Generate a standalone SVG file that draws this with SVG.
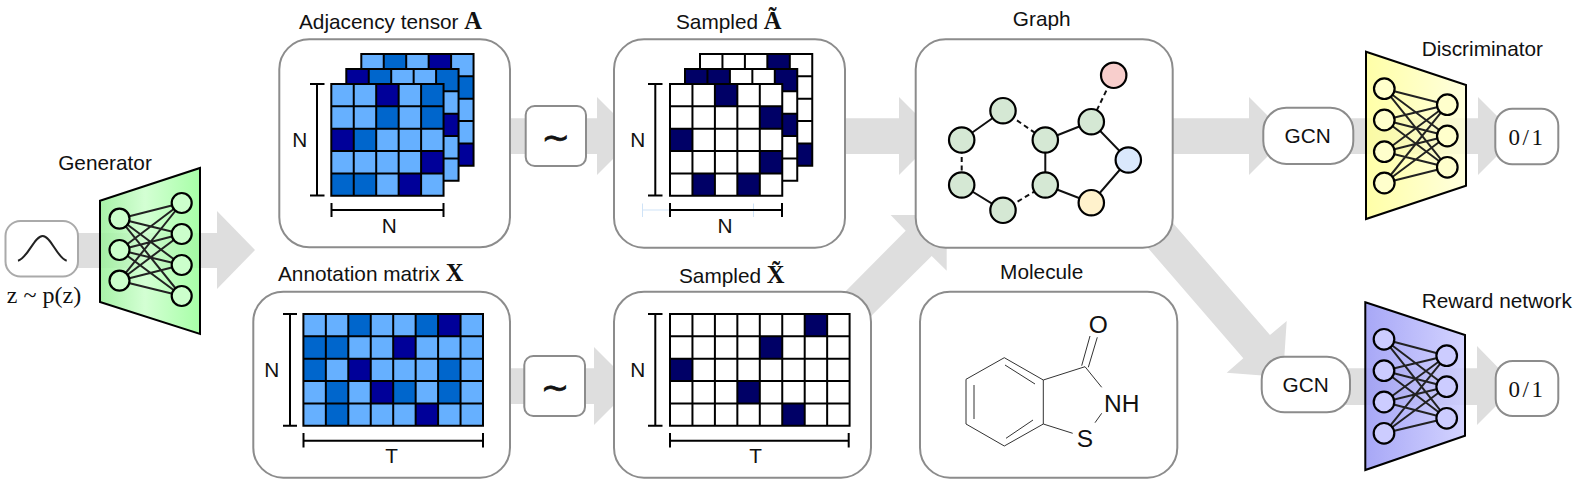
<svg xmlns="http://www.w3.org/2000/svg" width="1578" height="480" viewBox="0 0 1578 480">
<style>
text{font-family:"Liberation Sans",Arial,sans-serif;font-size:20.8px;fill:#111}
.mid{text-anchor:middle}
.tex{font-family:"Liberation Serif","Times New Roman",serif}
.bold{font-family:"Liberation Serif","Times New Roman",serif;font-weight:bold;font-size:24.5px}
.box{fill:#fff;stroke:#8c8c8c;stroke-width:2}
.flow{fill:#dedede;stroke:none}
.l{fill:#66b0ff}.m{fill:#0066cc}.d{fill:#000099}.s{fill:#000066}.w{fill:#fff}
.grid{fill:none;stroke:#000;stroke-width:2}
.bar{fill:none;stroke:#000;stroke-width:2}
.net{fill:none;stroke:#222;stroke-width:2}
.trap{stroke:#000;stroke-width:2;stroke-linejoin:miter}
.bond{stroke:#111;stroke-width:2;fill:none}
.dash{stroke-dasharray:5 3.5}
.atom{stroke:#000;stroke-width:2.2}
.g{fill:#d5e8d4}
.stick{stroke:#333;stroke-width:1;fill:none}
.tilde{font-family:"DejaVu Sans",sans-serif;font-size:34px;stroke:#111;stroke-width:.7}
.frac{font-family:"Liberation Serif","Times New Roman",serif;font-size:23px;letter-spacing:2.5px}
</style>
<defs>
<rect id="c" width="22.45" height="22.35"/>
<path id="g5" d="M0 0H112.25V111.75H0ZM22.45 0V111.75M44.9 0V111.75M67.35 0V111.75M89.8 0V111.75M0 22.35H112.25M0 44.7H112.25M0 67.05H112.25M0 89.4H112.25"/>
<path id="g8" d="M0 0H179.6V111.75H0ZM22.45 0V111.75M44.9 0V111.75M67.35 0V111.75M89.8 0V111.75M112.25 0V111.75M134.7 0V111.75M157.15 0V111.75M0 22.35H179.6M0 44.7H179.6M0 67.05H179.6M0 89.4H179.6"/>
<linearGradient id="gGen" x1="0" x2="1" y1="0" y2="0"><stop offset="0" stop-color="#99f099"/><stop offset=".45" stop-color="#ccffcc"/><stop offset="1" stop-color="#99ff99"/></linearGradient>
<linearGradient id="gDis" x1="0" x2="1" y1="0" y2="0"><stop offset="0" stop-color="#ffff99"/><stop offset="1" stop-color="#ffffd8"/></linearGradient>
<linearGradient id="gRew" x1="0" x2="1" y1="0" y2="0"><stop offset="0" stop-color="#9999f5"/><stop offset="1" stop-color="#ccccff"/></linearGradient>
</defs>

<g id="connectors">
<path class="flow" d="M60 233H217V211L255 250L217 289V268H60Z"/>
<path class="flow" d="M500 118.300H597V97L636 136L597 175V154H500Z"/>
<path class="flow" d="M500 368.300H594V347L633 386L594 425V404H500Z"/>
<path class="flow" d="M840 118.300H899V97L938 136L899 175V154H840Z"/>
<path class="flow" d="M835 302L905.700 230.700L890.700 215H946.700V270.700L931.700 256L860 327Z"/>
<path class="flow" d="M1160 118.300H1249V97L1288 136L1249 175V154H1160Z"/>
<path class="flow" d="M1160 208L1270 335L1286.700 321L1283 377L1226.700 372.700L1243.300 358.300L1135 233Z"/>
<path class="flow" d="M1340 118.300H1478V97L1517 136L1478 175V154H1340Z"/>
<path class="flow" d="M1340 368.300H1477V346L1516 386L1477 425V405H1340Z"/>
</g>

<g id="noise">
<rect class="box" x="5.500" y="221" width="72.500" height="55.500" rx="15" style="stroke:#aaa"/>
<path d="M18 260.700C28 258 34 236 42.700 236C51 236 57 258 66.700 260.700" fill="none" stroke="#222" stroke-width="2"/>
<text class="tex mid" x="44" y="303" style="font-size:24px">z ~ p(z)</text>
</g>

<g id="generator">
<text class="mid" x="105" y="170">Generator</text>
<path class="trap" fill="url(#gGen)" fill-opacity=".86" d="M100 200.700L200 168V334L100 302Z"/>
<path class="net" d="M119.500 218.700L181.700 203M119.500 218.700L181.700 234M119.500 218.700L181.700 265M119.500 218.700L181.700 296M119.500 250L181.700 203M119.500 250L181.700 234M119.500 250L181.700 265M119.500 250L181.700 296M119.500 280.700L181.700 203M119.500 280.700L181.700 234M119.500 280.700L181.700 265M119.500 280.700L181.700 296"/>
<g class="atom" fill="#ccffcc">
<circle cx="119.500" cy="218.700" r="10"/><circle cx="119.500" cy="250" r="10"/><circle cx="119.500" cy="280.700" r="10"/>
<circle cx="181.700" cy="203" r="10"/><circle cx="181.700" cy="234" r="10"/><circle cx="181.700" cy="265" r="10"/><circle cx="181.700" cy="296" r="10"/>
</g>
</g>

<g id="adjacency">
<text x="299" y="28.500">Adjacency tensor <tspan class="bold">A</tspan></text>
<rect class="box" x="279.300" y="39.300" width="230.700" height="208" rx="30"/>
<g transform="translate(361.300 54)">
<rect class="l" width="112.250" height="111.750"/>
<use href="#c" class="m" x="22.450"/><use href="#c" class="d" x="67.350"/><use href="#c" class="m" x="89.800" y="22.350"/><use href="#c" class="d" x="89.800" y="89.400"/>
<use href="#g5" class="grid"/>
</g>
<g transform="translate(346.300 69)">
<rect class="l" width="112.250" height="111.750"/>
<use href="#c" class="d"/><use href="#c" class="m" x="22.450"/><use href="#c" class="m" x="89.800"/><use href="#c" class="d" x="89.800" y="44.700"/>
<use href="#g5" class="grid"/>
</g>
<g transform="translate(331.300 84)">
<rect class="l" width="112.250" height="111.750"/>
<use href="#c" class="d" x="44.900"/><use href="#c" class="m" x="89.800"/>
<use href="#c" class="m" x="44.900" y="22.350"/><use href="#c" class="m" x="89.800" y="22.350"/>
<use href="#c" class="d" y="44.700"/><use href="#c" class="m" x="22.450" y="44.700"/>
<use href="#c" class="d" x="89.800" y="67.050"/>
<use href="#c" class="m" y="89.400"/><use href="#c" class="m" x="22.450" y="89.400"/><use href="#c" class="d" x="67.350" y="89.400"/>
<use href="#g5" class="grid"/>
</g>
<path class="bar" d="M310 84H324.500M317 84V195.500M310 195.500H324.500M331.500 203V217M331.500 210H443.500M443.500 203V217"/>
<text class="mid" x="299.700" y="147">N</text>
<text class="mid" x="389.300" y="233">N</text>
</g>

<g id="sampler-a">
<rect class="box" x="525.700" y="106" width="60.300" height="60" rx="9"/>
<text class="mid tilde" x="555.700" y="148.500">∼</text>
</g>

<g id="sampled-a">
<text x="676" y="28.500">Sampled <tspan class="bold">Ã</tspan></text>
<rect class="box" x="614" y="39.300" width="231" height="208.400" rx="30"/>
<g transform="translate(700 54)">
<rect class="w" width="112.250" height="111.750"/>
<use href="#c" class="s" x="67.350"/><use href="#c" class="s" x="89.800" y="89.400"/>
<use href="#g5" class="grid"/>
</g>
<g transform="translate(685 69)">
<rect class="w" width="112.250" height="111.750"/>
<use href="#c" class="s"/><use href="#c" class="s" x="22.450"/><use href="#c" class="s" x="89.800"/><use href="#c" class="s" x="89.800" y="44.700"/>
<use href="#g5" class="grid"/>
</g>
<g transform="translate(670 84)">
<rect class="w" width="112.250" height="111.750"/>
<use href="#c" class="s" x="44.900"/><use href="#c" class="s" x="89.800" y="22.350"/><use href="#c" class="s" y="44.700"/><use href="#c" class="s" x="89.800" y="67.050"/><use href="#c" class="s" x="22.450" y="89.400"/><use href="#c" class="s" x="67.350" y="89.400"/>
<use href="#g5" class="grid"/>
</g>
<path d="M642.500 203.500V217M642.500 210H670M753.500 203.500V217" fill="none" stroke="#cfe3f7" stroke-width="1"/>
<path class="bar" d="M648 84H662.500M655.300 84V195.500M648 195.500H662.500M670 203V217M670 210H782M782 203V217"/>
<text class="mid" x="637.700" y="147">N</text>
<text class="mid" x="725" y="233">N</text>
</g>

<g id="annotation">
<text x="278" y="281">Annotation matrix <tspan class="bold">X</tspan></text>
<rect class="box" x="253.300" y="291.700" width="256.700" height="186" rx="30"/>
<g transform="translate(303.400 314)">
<rect class="l" width="179.600" height="111.750"/>
<use href="#c" class="m" x="44.900"/><use href="#c" class="m" x="112.250"/><use href="#c" class="d" x="134.700"/>
<use href="#c" class="m" y="22.350"/><use href="#c" class="m" x="22.450" y="22.350"/><use href="#c" class="d" x="89.800" y="22.350"/>
<use href="#c" class="m" y="44.700"/><use href="#c" class="d" x="44.900" y="44.700"/><use href="#c" class="m" x="134.700" y="44.700"/>
<use href="#c" class="m" x="22.450" y="67.050"/><use href="#c" class="d" x="67.350" y="67.050"/><use href="#c" class="m" x="89.800" y="67.050"/><use href="#c" class="m" x="134.700" y="67.050"/>
<use href="#c" class="m" x="22.450" y="89.400"/><use href="#c" class="d" x="112.250" y="89.400"/>
<use href="#g8" class="grid"/>
</g>
<path class="bar" d="M283 314H297M290 314V425.700M283 425.700H297M303.500 433V447.500M303.500 440.700H483M483 433V447.500"/>
<text class="mid" x="271.700" y="377.300">N</text>
<text class="mid" x="391.700" y="463.300">T</text>
</g>

<g id="sampler-x">
<rect class="box" x="524.300" y="356" width="60.700" height="60" rx="9"/>
<text class="mid tilde" x="555" y="398.500">∼</text>
</g>

<g id="sampled-x">
<text x="679" y="282.500">Sampled <tspan class="bold">X̃</tspan></text>
<rect class="box" x="614" y="291.700" width="257" height="186" rx="30"/>
<g transform="translate(670 314)">
<rect class="w" width="179.600" height="111.750"/>
<use href="#c" class="s" x="134.700"/><use href="#c" class="s" x="89.800" y="22.350"/><use href="#c" class="s" y="44.700"/><use href="#c" class="s" x="67.350" y="67.050"/><use href="#c" class="s" x="112.250" y="89.400"/>
<use href="#g8" class="grid"/>
</g>
<path class="bar" d="M648 314H662.500M655.300 314V425.700M648 425.700H662.500M670 433V447.500M670 440.700H848.700M848.700 433V447.500"/>
<text class="mid" x="637.700" y="377">N</text>
<text class="mid" x="755.700" y="463.300">T</text>
</g>

<g id="graph">
<text class="mid" x="1041.700" y="26">Graph</text>
<rect class="box" x="915.700" y="39.300" width="257" height="208.400" rx="30"/>
<path class="bond dash" d="M1113.700 75.300L1091.300 121.700M1003 110.700L1045.300 140M961.700 140V185M1003 210.300L1045.300 185"/>
<path class="bond" d="M1091.300 121.700L1045.300 140M1091.300 121.700L1128.300 160L1091.300 202.700L1045.300 185V140M1003 110.700L961.700 140M961.700 185L1003 210.300"/>
<g class="atom">
<circle cx="1113.700" cy="75.300" r="12.700" fill="#f8cecc"/>
<circle class="g" cx="1091.300" cy="121.700" r="12.700"/>
<circle cx="1128.300" cy="160" r="12.700" fill="#dae8fc"/>
<circle cx="1091.300" cy="202.700" r="12.700" fill="#fff2cc"/>
<circle class="g" cx="1045.300" cy="140" r="12.700"/>
<circle class="g" cx="1045.300" cy="185" r="12.700"/>
<circle class="g" cx="1003" cy="110.700" r="12.700"/>
<circle class="g" cx="961.700" cy="140" r="12.700"/>
<circle class="g" cx="961.700" cy="185" r="12.700"/>
<circle class="g" cx="1003" cy="210.300" r="12.700"/>
</g>
</g>

<g id="molecule">
<text class="mid" x="1041.700" y="279.300">Molecule</text>
<rect class="box" x="920" y="291.700" width="257.300" height="186" rx="30"/>
<path class="stick" d="M1004.300 357.700L1043.300 380V424L1004.300 446L966 424V379.300ZM974 385V419M1005 365L1035 384M1006 438.300L1033 420M1043.300 380L1085 366.700L1101.700 387.300M1081.700 365.700L1090 336M1088.300 367.300L1097.300 337.300M1101.700 413.300L1095 422.700M1043.300 424L1072.700 433.300"/>
<text class="mid" x="1098.300" y="333.300" style="font-size:24.500px">O</text>
<text x="1104" y="411.700" style="font-size:24.500px">NH</text>
<text class="mid" x="1085" y="447.300" style="font-size:24.500px">S</text>
</g>

<g id="gcn-top">
<rect class="box" x="1263.300" y="107.700" width="90" height="56.300" rx="23"/>
<text class="mid" x="1307.700" y="143.300">GCN</text>
</g>

<g id="discriminator">
<text x="1421.700" y="56">Discriminator</text>
<path class="trap" fill="url(#gDis)" fill-opacity=".86" d="M1366 51.700L1466 85V185.700L1366 219Z"/>
<path class="net" d="M1384.300 88.700L1447.300 104.700M1384.300 88.700L1447.300 136M1384.300 88.700L1447.300 167.300M1384.300 120L1447.300 104.700M1384.300 120L1447.300 136M1384.300 120L1447.300 167.300M1384.300 151.700L1447.300 104.700M1384.300 151.700L1447.300 136M1384.300 151.700L1447.300 167.300M1384.300 183L1447.300 104.700M1384.300 183L1447.300 136M1384.300 183L1447.300 167.300"/>
<g class="atom" fill="#ffffcc">
<circle cx="1384.300" cy="88.700" r="10.300"/><circle cx="1384.300" cy="120" r="10.300"/><circle cx="1384.300" cy="151.700" r="10.300"/><circle cx="1384.300" cy="183" r="10.300"/>
<circle cx="1447.300" cy="104.700" r="10.300"/><circle cx="1447.300" cy="136" r="10.300"/><circle cx="1447.300" cy="167.300" r="10.300"/>
</g>
</g>

<g id="output-top">
<rect class="box" x="1495.300" y="108.700" width="63" height="55.600" rx="17"/>
<text class="frac mid" x="1527" y="145">0/1</text>
</g>

<g id="gcn-bottom">
<rect class="box" x="1261.700" y="356.700" width="88.300" height="55.600" rx="23"/>
<text class="mid" x="1305.700" y="391.700">GCN</text>
</g>

<g id="reward">
<text x="1421.700" y="308">Reward network</text>
<path class="trap" fill="url(#gRew)" fill-opacity=".86" d="M1365.300 302.300L1465 335V435.700L1365.300 470Z"/>
<path class="net" d="M1384 339.300L1446.700 355.700M1384 339.300L1446.700 386.700M1384 339.300L1446.700 418.300M1384 370.700L1446.700 355.700M1384 370.700L1446.700 386.700M1384 370.700L1446.700 418.300M1384 402L1446.700 355.700M1384 402L1446.700 386.700M1384 402L1446.700 418.300M1384 433.300L1446.700 355.700M1384 433.300L1446.700 386.700M1384 433.300L1446.700 418.300"/>
<g class="atom" fill="#ccccff">
<circle cx="1384" cy="339.300" r="10.300"/><circle cx="1384" cy="370.700" r="10.300"/><circle cx="1384" cy="402" r="10.300"/><circle cx="1384" cy="433.300" r="10.300"/>
<circle cx="1446.700" cy="355.700" r="10.300"/><circle cx="1446.700" cy="386.700" r="10.300"/><circle cx="1446.700" cy="418.300" r="10.300"/>
</g>
</g>

<g id="output-bottom">
<rect class="box" x="1495.700" y="361" width="62.600" height="55" rx="17"/>
<text class="frac mid" x="1527" y="396.700">0/1</text>
</g>
</svg>
